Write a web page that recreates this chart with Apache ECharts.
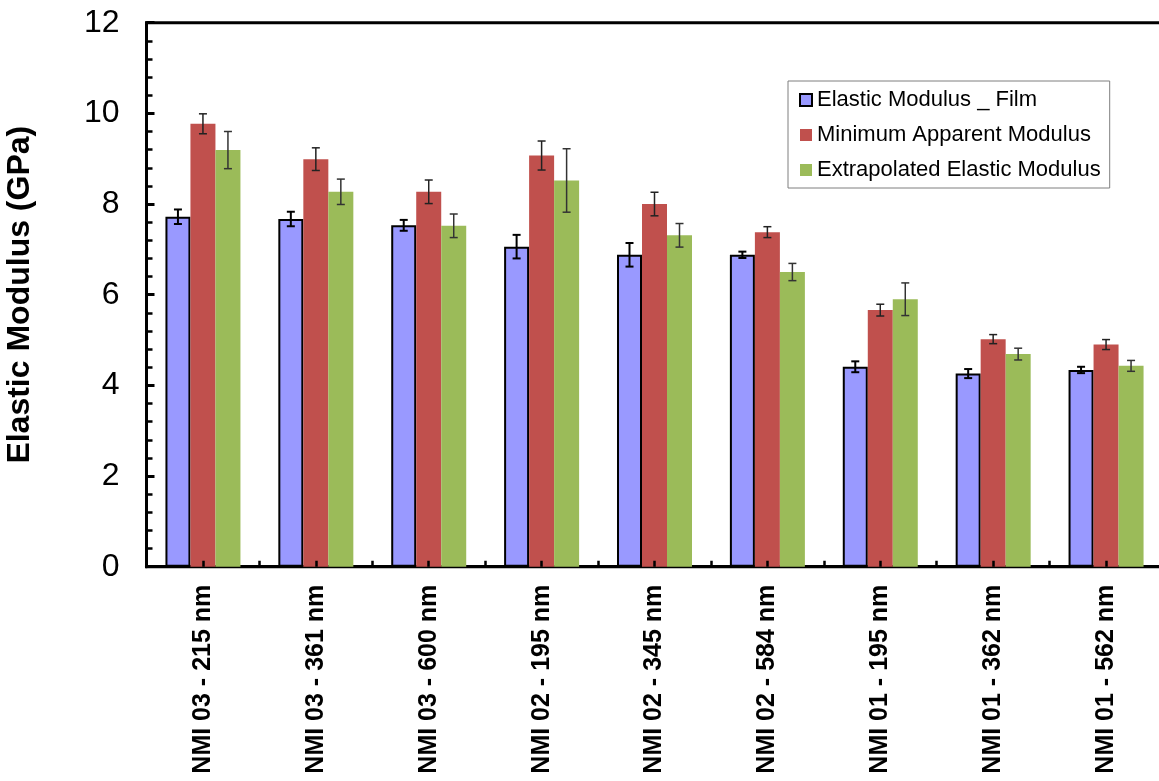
<!DOCTYPE html>
<html>
<head>
<meta charset="utf-8">
<title>Elastic Modulus</title>
<script src="https://cdn.jsdelivr.net/npm/echarts@6/dist/echarts.min.js"></script>
<style>
  html, body { margin: 0; padding: 0; background: #fff; }
  #chart { width: 1159px; height: 781px; }
</style>
</head>
<body>
<div id="chart"></div>
<script>
// Samples (film thickness per sample)
const categories = [
  'NMI 03 - 215 nm', 'NMI 03 - 361 nm', 'NMI 03 - 600 nm',
  'NMI 02 - 195 nm', 'NMI 02 - 345 nm', 'NMI 02 - 584 nm',
  'NMI 01 - 195 nm', 'NMI 01 - 362 nm', 'NMI 01 - 562 nm'
];

// Modulus values in GPa and their error (±)
const filmModulus     = [7.72, 7.67, 7.53, 7.06, 6.88, 6.88, 4.41, 4.26, 4.34];
const filmError       = [0.16, 0.16, 0.12, 0.26, 0.26, 0.07, 0.12, 0.10, 0.07];
const minApparent     = [9.77, 8.99, 8.27, 9.07, 8.00, 7.38, 5.66, 5.02, 4.90];
const minApparentErr  = [0.22, 0.25, 0.26, 0.32, 0.26, 0.12, 0.13, 0.10, 0.11];
const extrapolated    = [9.19, 8.27, 7.52, 8.52, 7.31, 6.50, 5.90, 4.69, 4.43];
const extrapolatedErr = [0.41, 0.28, 0.26, 0.70, 0.26, 0.19, 0.36, 0.13, 0.12];

const yTicks = [0, 2, 4, 6, 8, 10, 12];

const FONT = '"Liberation Sans", Arial, Helvetica, sans-serif';
const BAR_W = 25;

function errorSeries(name, values, errors, offset, color, width) {
  return {
    name: name,
    type: 'custom',
    xAxisIndex: 0,
    yAxisIndex: 0,
    z: 5,
    silent: true,
    encode: { x: 0, y: 1 },
    data: values.map((v, i) => [i, v, errors[i]]),
    renderItem: function (params, api) {
      const idx = api.value(0);
      const v = api.value(1);
      const e = api.value(2);
      const hi = api.coord([idx, v + e]);
      const lo = api.coord([idx, v - e]);
      const x = hi[0] + offset;
      const cap = 4;
      const style = { stroke: color, lineWidth: width };
      return {
        type: 'group',
        children: [
          { type: 'line', shape: { x1: x, y1: hi[1], x2: x, y2: lo[1] }, style: style },
          { type: 'line', shape: { x1: x - cap, y1: hi[1], x2: x + cap, y2: hi[1] }, style: style },
          { type: 'line', shape: { x1: x - cap, y1: lo[1], x2: x + cap, y2: lo[1] }, style: style }
        ]
      };
    }
  };
}

const chart = echarts.init(document.getElementById('chart'), null, { renderer: 'canvas' });

chart.setOption({
  animation: false,
  backgroundColor: '#ffffff',
  textStyle: { fontFamily: FONT },
  grid: {
    left: 146.5, top: 22.7, right: -3.5, bottom: 214.3,
    outerBoundsMode: 'none',
    containLabel: false,
    show: true, borderColor: '#000', borderWidth: 3, backgroundColor: 'transparent'
  },
  legend: {
    orient: 'vertical',
    left: 788, top: 81,
    data: ['Elastic Modulus _ Film', 'Minimum Apparent Modulus', 'Extrapolated Elastic Modulus'],
    icon: 'rect',
    itemWidth: 12, itemHeight: 12,
    itemGap: 13,
    padding: [8, 9, 7, 11],
    borderColor: '#7f7f7f', borderWidth: 1,
    backgroundColor: '#fff',
    textStyle: { fontFamily: FONT, fontSize: 22, lineHeight: 22, color: '#000' }
  },
  xAxis: [
    {
      type: 'category',
      data: categories,
      axisLine: { lineStyle: { color: '#000', width: 3 } },
      axisTick: { show: false },
      axisLabel: {
        interval: 0, rotate: 90, margin: 18,
        fontFamily: FONT, fontSize: 25, fontWeight: 'bold', color: '#000'
      },
      splitLine: { show: false }
    },
    {
      // half-category tick marks along the bottom edge
      type: 'value',
      position: 'bottom',
      min: 0, max: 9, interval: 0.5,
      z: 10,
      axisLine: { show: false },
      axisTick: { show: true, inside: true, length: 6, lineStyle: { color: '#000', width: 2.5 } },
      axisLabel: { show: false },
      splitLine: { show: false }
    }
  ],
  yAxis: {
    type: 'value',
    min: 0, max: 12, interval: 2,
    name: 'Elastic Modulus (GPa)',
    nameLocation: 'middle',
    nameGap: 110,
    nameTextStyle: { fontFamily: FONT, fontSize: 32, fontWeight: 'bold', color: '#000' },
    axisLine: { show: true, lineStyle: { color: '#000', width: 3 } },
    axisTick: { show: true, inside: true, length: 8, lineStyle: { color: '#000', width: 3 } },
    minorTick: { show: true, splitNumber: 5, length: 6, lineStyle: { color: '#000', width: 2.5 } },
    axisLabel: {
      margin: 27, fontFamily: FONT, fontSize: 32, color: '#000',
      customValues: yTicks
    },
    splitLine: { show: false }
  },
  series: [
    {
      name: 'Elastic Modulus _ Film',
      type: 'bar',
      barWidth: BAR_W,
      barGap: '0%',
      itemStyle: { color: '#9999FF', borderColor: '#000', borderWidth: 2 },
      data: filmModulus
    },
    {
      name: 'Minimum Apparent Modulus',
      type: 'bar',
      barWidth: BAR_W,
      barGap: '0%',
      itemStyle: { color: '#C0504D' },
      data: minApparent
    },
    {
      name: 'Extrapolated Elastic Modulus',
      type: 'bar',
      barWidth: BAR_W,
      barGap: '0%',
      itemStyle: { color: '#9BBB59' },
      data: extrapolated
    },
    errorSeries('filmErr', filmModulus, filmError, -BAR_W, '#000', 2),
    errorSeries('minErr', minApparent, minApparentErr, 0, '#222', 1.5),
    errorSeries('extErr', extrapolated, extrapolatedErr, BAR_W, '#333', 1.5)
  ]
});
</script>
</body>
</html>
